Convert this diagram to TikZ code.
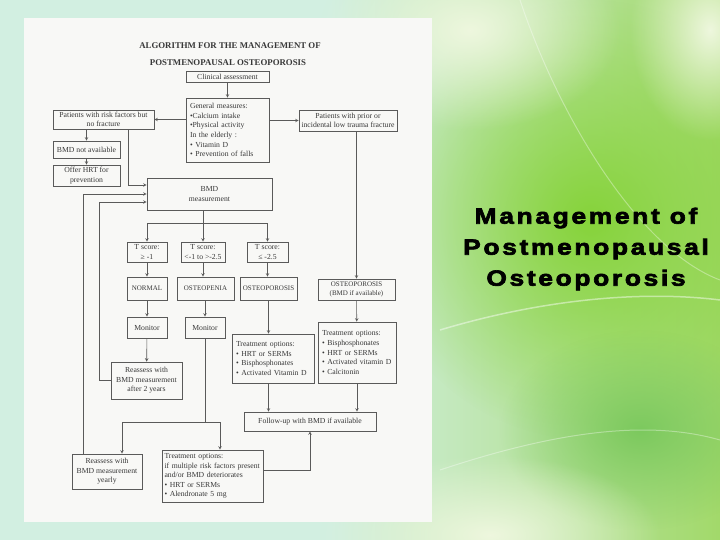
\documentclass[tikz,border=0pt]{standalone}
\usepackage{fontspec}
\setmainfont{Liberation Serif}
\newfontfamily\headfont{Liberation Sans}[LetterSpace=12, FakeStretch=1.2, BoldFeatures={FakeBold=3}]
\usetikzlibrary{calc, fadings}
\tikzset{>=stealth}
\tikzfading[name=soft blob, inner color=transparent!0, outer color=transparent!100]
\definecolor{ink}{HTML}{383838}
\definecolor{rule}{HTML}{5A5A5A}
\definecolor{paper}{HTML}{F8F8F6}
\definecolor{mint}{HTML}{D2EFE1}
\definecolor{lime}{HTML}{A2D96A}
\definecolor{leaf}{HTML}{86D33A}
\definecolor{moss}{HTML}{7CC95E}
\definecolor{pale}{HTML}{EEF7DE}
\tikzset{
  box/.style 2 args={draw=rule, line width=.6pt, text=ink, font=\fontsize{7.7}{9.6}\selectfont,
    inner sep=0pt, align=center, minimum width=#1, minimum height=#2},
  lbox/.style 2 args={draw=rule, line width=.6pt, text=ink, font=\fontsize{7.7}{9.6}\selectfont,
    inner xsep=4pt, inner ysep=0pt, align=left, text width=#1, minimum height=#2},
  link/.style={draw=rule, line width=.6pt}
}

\begin{document}
\begin{tikzpicture}[x=1pt, y=-1pt]
\useasboundingbox (0,0) rectangle (720,540);
% background
\fill[mint] (0,0) rectangle (720,540);
\shade[left color=mint, right color=lime] (330,0) rectangle (720,540);
\fill[leaf, path fading=soft blob] (590,220) circle (220);
\fill[moss, path fading=soft blob] (640,430) ellipse (140 and 100);
\fill[pale, path fading=soft blob] (470,30) ellipse (150 and 100);
\fill[pale, path fading=soft blob] (490,535) ellipse (170 and 80);
\fill[pale, path fading=soft blob] (710,30) ellipse (80 and 110);
\draw[white, opacity=.45, line width=1.5pt] (440,330) .. controls (540,300) and (640,290) .. (720,300);
\draw[white, opacity=.35, line width=1pt] (520,0) .. controls (560,120) and (640,250) .. (720,280);
\draw[white, opacity=.35, line width=1pt] (440,470) .. controls (560,430) and (650,420) .. (720,440);
\fill[paper] (24,18) rectangle (432,522);

\node[font=\bfseries\fontsize{8.8}{10}\selectfont, text=ink] (title1) at (230,46) {ALGORITHM FOR THE MANAGEMENT OF};
\node[font=\bfseries\fontsize{8.8}{10}\selectfont, text=ink] (title2) at (228,63) {POSTMENOPAUSAL OSTEOPOROSIS};

\node[box={83pt}{11pt}] (clin) at (227.5,76.5) {Clinical assessment};
\node[lbox={75pt}{64pt}] (gen) at (227.5,130) {General measures:\\•Calcium intake\\•Physical activity\\In the elderly :\\• Vitamin D\\• Prevention of falls};
\node[box={101pt}{19pt}] (risk) at (103.5,119.5) {Patients with risk factors but\\no fracture};
\node[box={98pt}{21pt}] (prior) at (348,120.5) {Patients with prior or\\incidental low trauma fracture};
\node[box={67pt}{17pt}] (bmdna) at (86.5,149.5) {BMD not available};
\node[box={67pt}{21pt}] (hrt) at (86.5,175.5) {Offer HRT for\\prevention};
\node[box={125pt}{32pt}] (bmd) at (209.5,194) {BMD\\measurement};

\node[box={40pt}{20pt}] (t1) at (147,252) {T score:\\≥ -1};
\node[box={44pt}{20pt}] (t2) at (203,252) {T score:\\<-1 to >-2.5};
\node[box={41pt}{20pt}] (t3) at (267.5,252) {T score:\\≤ -2.5};
\node[box={40pt}{23pt}, font=\fontsize{7}{9}\selectfont] (normal) at (147,288.5) {NORMAL};
\node[box={57pt}{23pt}, font=\fontsize{7}{9}\selectfont] (penia) at (205.5,288.5) {OSTEOPENIA};
\node[box={57pt}{23pt}, font=\fontsize{7}{9}\selectfont] (poro) at (268.5,288.5) {OSTEOPOROSIS};
\node[box={77pt}{21pt}, font=\fontsize{7}{9}\selectfont] (poro2) at (356.5,289.5) {OSTEOPOROSIS\\(BMD if available)};
\node[box={40pt}{21pt}] (mon1) at (147,327.5) {Monitor};
\node[box={40pt}{21pt}] (mon2) at (205,327.5) {Monitor};
\node[lbox={74pt}{49pt}] (treat1) at (273,358.5) {Treatment options:\\• HRT or SERMs\\• Bisphosphonates\\• Activated Vitamin D};
\node[lbox={70pt}{61pt}] (treat2) at (357,352.5) {Treatment options:\\• Bisphosphonates\\• HRT or SERMs\\• Activated vitamin D\\• Calcitonin};
\node[box={71pt}{37pt}] (re2) at (146.5,380.5) {Reassess with\\BMD measurement\\after 2 years};
\node[box={132pt}{19pt}] (follow) at (310,421.5) {Follow-up with BMD if available};
\node[box={70pt}{35pt}] (reY) at (107,471.5) {Reassess with\\BMD measurement\\yearly};
\node[lbox={96pt}{52pt}, inner xsep=2.5pt] (treat3) at (212.5,476) {Treatment options:\\if multiple risk factors present\\and/or BMD deteriorates\\• HRT or SERMs\\• Alendronate 5 mg};

\draw[link,->] (clin) -- (gen);
\draw[link,->] (gen.west |- risk.east) -- (risk.east);
\draw[link,->] (gen.east |- prior.west) -- (prior.west);
\draw[link,->] (risk.south -| bmdna.north) -- (bmdna.north);
\draw[link,->] (bmdna) -- (hrt);
\draw[link,->] ($(risk.south)+(24.5,0)$) |- ([yshift=9pt]bmd.west);
\draw[link,->] ([xshift=-24pt]reY.north) |- (bmd.west);
\draw[link,->] (re2.west) -- ++(-11,0) |- ([yshift=-8pt]bmd.west);
\draw[link] (bmd.south -| t2.north) -- ++(0,13) coordinate (fork);
\draw[link,->] (fork) -| (t1.north);
\draw[link,->] (fork) -| (t3.north);
\draw[link,->] (fork) -- (t2.north);
\draw[link,->] (t1) -- (normal);
\draw[link,->] (t2.south) -- (t2.south |- penia.north);
\draw[link,->] (t3.south) -- (t3.south |- poro.north);
\draw[link,->] (normal) -- (mon1);
\draw[link,->] (penia.south -| mon2.north) -- (mon2.north);
\draw[link,->] (mon1) -- (re2);
\draw[link,->] (poro.south) -- (poro.south |- treat1.north);
\draw[link,->] (prior.south -| poro2.north) -- (poro2.north);
\draw[link,->] (poro2) -- (treat2);
\draw[link,->] (treat1.south -| poro.south) -- (poro.south |- follow.north);
\draw[link,->] (treat2.south) -- (treat2.south |- follow.north);
\draw[link] (mon2.south) -- ++(0,84) coordinate (split);
\draw[link,->] (split) -| ([xshift=15pt]reY.north);
\draw[link,->] (split) -| ([xshift=7.5pt]treat3.north);
\draw[link,->] ([yshift=6pt]treat3.east) -| (follow.south);

\node[font=\headfont\bfseries\fontsize{22}{31}\selectfont, align=center] (head) at (586,249) {Management of\\Postmenopausal\\Osteoporosis};
\end{tikzpicture}
\end{document}
